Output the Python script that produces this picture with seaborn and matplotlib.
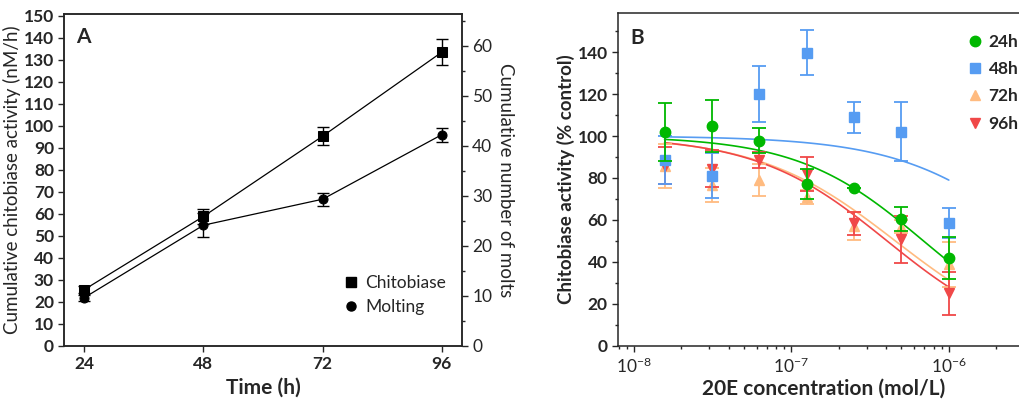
import numpy as np
import pandas as pd
import matplotlib
matplotlib.use("Agg")
import matplotlib.pyplot as plt
from matplotlib.lines import Line2D
from matplotlib.ticker import MultipleLocator, LogLocator, NullFormatter
import seaborn as sns

# ---- panel A data ----
time_h = [24, 48, 72, 96]
chito_act = [25.5, 58.8, 95.3, 133.5]
chito_err = [1.5, 3.3, 4.0, 6.0]
molts = [9.6, 24.1, 29.3, 42.2]
molts_err = [0.6, 2.4, 1.3, 1.4]

# ---- panel B data ----
conc = [1.5625e-8, 3.125e-8, 6.25e-8, 1.25e-7, 2.5e-7, 5e-7, 1e-6]
act_24h = [101.8, 105.0, 97.8, 77.0, 75.1, 60.3, 41.7]
err_24h = [13.7, 12.4, 6.0, 7.2, 0.0, 5.7, 10.0]
act_48h = [88.6, 81.1, 120.0, 139.8, 109.0, 102.0, 58.4]
err_48h = [11.6, 10.8, 13.4, 10.7, 7.4, 14.0, 7.2]
act_72h = [85.7, 76.7, 79.1, 71.0, 57.1, 56.8, 38.8]
err_72h = [10.6, 8.0, 7.5, 3.5, 6.6, 3.0, 10.6]
act_96h = [85.8, 84.5, 88.6, 81.9, 58.4, 50.8, 25.0]
err_96h = [8.8, 9.0, 3.8, 8.0, 5.5, 11.2, 10.4]

# dose-response fit (top, bottom, IC50, hill) estimated from the drawn curves
fit_24h = (100, 0, 6.9e-7, 1.085)
fit_48h = (100, 0, 3.76e-6, 1.0)
fit_72h = (100, 0, 4.57e-7, 1.0)
fit_96h = (100, 0, 4.05e-7, 1.045)

labels_B = ["24h", "48h", "72h", "96h"]
colors_B = ["#00B800", "#569CF2", "#FFBB80", "#F04848"]
markers_B = ["o", "s", "^", "v"]

sns.set_style("ticks")
plt.rcParams['font.family'] = ['Lato', 'DejaVu Sans']
plt.rcParams['mathtext.fontset'] = 'custom'
plt.rcParams['mathtext.rm'] = 'Lato:bold'
plt.rcParams['mathtext.bf'] = 'Lato:bold'
plt.rcParams['axes.linewidth'] = 1.1

fig = plt.figure(figsize=(10.19, 4.03), dpi=100)

# ============ panel A ============
axA = fig.add_axes([0.0631, 0.142, 0.390, 0.823])
axA2 = axA.twinx()

dfA = pd.DataFrame({"time": time_h, "chito": chito_act, "molts": molts})
sns.lineplot(data=dfA, x="time", y="chito", ax=axA, color="black", lw=0.9,
             marker="s", markersize=7, markeredgecolor="black")
axA.errorbar(time_h, chito_act, yerr=chito_err, fmt="none", ecolor="black",
             elinewidth=1.0, capsize=4, capthick=1.0)
sns.lineplot(data=dfA, x="time", y="molts", ax=axA2, color="black", lw=0.9,
             marker="o", markersize=6.5, markeredgecolor="black")
axA2.errorbar(time_h, molts, yerr=molts_err, fmt="none", ecolor="black",
              elinewidth=1.0, capsize=4, capthick=1.0)

axA.set_xlim(20, 100)
axA.set_ylim(0, 150.8)
axA2.set_ylim(0, 66.3)
axA.set_xticks(time_h)
axA.yaxis.set_major_locator(MultipleLocator(10))
axA2.yaxis.set_major_locator(MultipleLocator(10))
axA2.yaxis.set_minor_locator(MultipleLocator(5))
for lab in axA.get_xticklabels() + axA.get_yticklabels():
    lab.set_fontweight("bold")
axA.tick_params(labelsize=12.5, direction="out", length=4, width=1)
axA2.tick_params(labelsize=12.5, direction="out", length=4, width=1)
axA2.tick_params(which="minor", direction="out", length=2.5, width=1)
axA.set_xlabel("Time (h)", fontsize=15, fontweight="bold", labelpad=4)
axA.set_ylabel("Cumulative chitobiase activity (nM/h)", fontsize=13.5, labelpad=2)
axA2.set_ylabel("Cumulative number of molts", fontsize=13.5, rotation=-90, labelpad=16)
axA.text(0.03, 0.96, "A", transform=axA.transAxes, fontsize=15,
         fontweight="bold", va="top", ha="left")

hA = [Line2D([], [], color="black", marker="s", ls="none", markersize=7),
      Line2D([], [], color="black", marker="o", ls="none", markersize=6.5)]
axA2.legend(hA, ["Chitobiase", "Molting"], loc="lower right", frameon=False,
            fontsize=12.5, handlelength=0.8, handletextpad=0.4, labelspacing=0.45,
            bbox_to_anchor=(1.0, 0.045))

# ============ panel B ============
axB = fig.add_axes([0.6065, 0.142, 0.4043, 0.825])
axB.set_xscale("log")

xs = np.logspace(np.log10(conc[0]), np.log10(conc[-1]), 120)
acts = [act_24h, act_48h, act_72h, act_96h]
errs = [err_24h, err_48h, err_72h, err_96h]
fits = [fit_24h, fit_48h, fit_72h, fit_96h]

# draw order: 72h, 96h, 48h, 24h on top
order = [2, 3, 1, 0]
for i in order:
    top, bot, ic50, h = fits[i]
    curve = pd.DataFrame({"x": xs, "y": bot + (top - bot) / (1 + (xs / ic50) ** h)})
    sns.lineplot(data=curve, x="x", y="y", ax=axB, color=colors_B[i], lw=1.2,
                 zorder=2 + order.index(i))
for i in order:
    axB.errorbar(conc, acts[i], yerr=errs[i], fmt=markers_B[i], color=colors_B[i],
                 ecolor=colors_B[i], markersize=7.5, elinewidth=1.3, capsize=5,
                 capthick=1.3, zorder=6 + order.index(i), label=labels_B[i])

axB.set_xlim(10 ** -8.102, 10 ** -5.484)
axB.set_ylim(0, 158.5)
axB.yaxis.set_major_locator(MultipleLocator(20))
axB.yaxis.set_minor_locator(MultipleLocator(10))
axB.xaxis.set_major_locator(LogLocator(base=10, numticks=10))
axB.xaxis.set_minor_locator(LogLocator(base=10, subs=np.arange(2, 10), numticks=10))
axB.xaxis.set_minor_formatter(NullFormatter())
for lab in axB.get_yticklabels():
    lab.set_fontweight("bold")
axB.tick_params(labelsize=12.5, direction="out", length=4, width=1)
axB.tick_params(which="minor", direction="out", length=2.5, width=1)
axB.set_xlabel("20E concentration (mol/L)", fontsize=15, fontweight="bold", labelpad=2)
axB.set_ylabel("Chitobiase activity (% control)", fontsize=13.5, fontweight="bold", labelpad=2)
axB.text(0.03, 0.955, "B", transform=axB.transAxes, fontsize=15,
         fontweight="bold", va="top", ha="left")
sns.despine(ax=axB, top=False, right=True)

hB = [Line2D([], [], color=colors_B[i], marker=markers_B[i], ls="none", markersize=7.5)
      for i in range(4)]
legB = axB.legend(hB, labels_B, loc="upper left", bbox_to_anchor=(0.815, 0.985),
                  frameon=False, fontsize=12.5, handlelength=0.7, handletextpad=0.4,
                  labelspacing=0.65)
for t in legB.get_texts():
    t.set_fontweight("bold")

fig.savefig("out.png", dpi=100)
